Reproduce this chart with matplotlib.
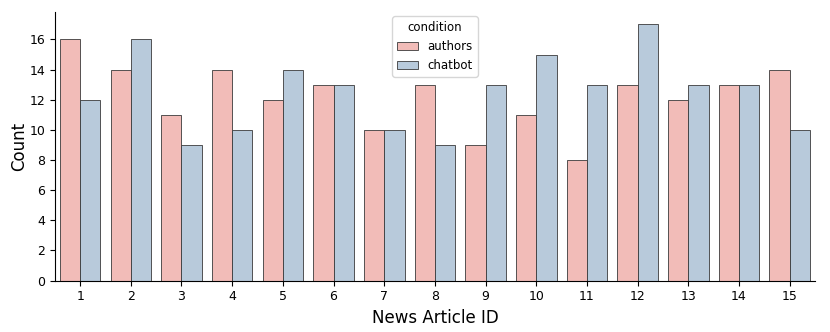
import numpy as np
import matplotlib.pyplot as plt

# datos
articulos = [str(i) for i in range(1, 16)]
authors = [16, 14, 11, 14, 12, 13, 10, 13, 9, 11, 8, 13, 12, 13, 14]
chatbot = [12, 16, 9, 10, 14, 13, 10, 9, 13, 15, 13, 17, 13, 13, 10]

fig, ax = plt.subplots(figsize=(8.3, 3.32), dpi=100)
x = np.arange(len(articulos))
w = 0.4
ax.bar(x - w / 2, authors, w, color='#f2bcb8', edgecolor='#3a3a3a', linewidth=0.6, label='authors')
ax.bar(x + w / 2, chatbot, w, color='#b8cadb', edgecolor='#3a3a3a', linewidth=0.6, label='chatbot')

ax.set_xticks(x)
ax.set_xticklabels(articulos, fontsize=9)
ax.set_yticks(range(0, 17, 2))
ax.tick_params(axis='y', labelsize=9)
ax.set_xlim(-0.5, 14.5)
ax.set_ylim(0, 17.85)
ax.set_xlabel('News Article ID', fontsize=12)
ax.set_ylabel('Count', fontsize=12, labelpad=1)
ax.spines['top'].set_visible(False)
ax.spines['right'].set_visible(False)
ax.legend(title='condition', loc='upper center', fontsize=8.5, title_fontsize=8.5,
          handlelength=1.8, borderaxespad=0.4)

plt.subplots_adjust(left=0.066, right=0.982, top=0.965, bottom=0.155)
plt.savefig('out.png')
